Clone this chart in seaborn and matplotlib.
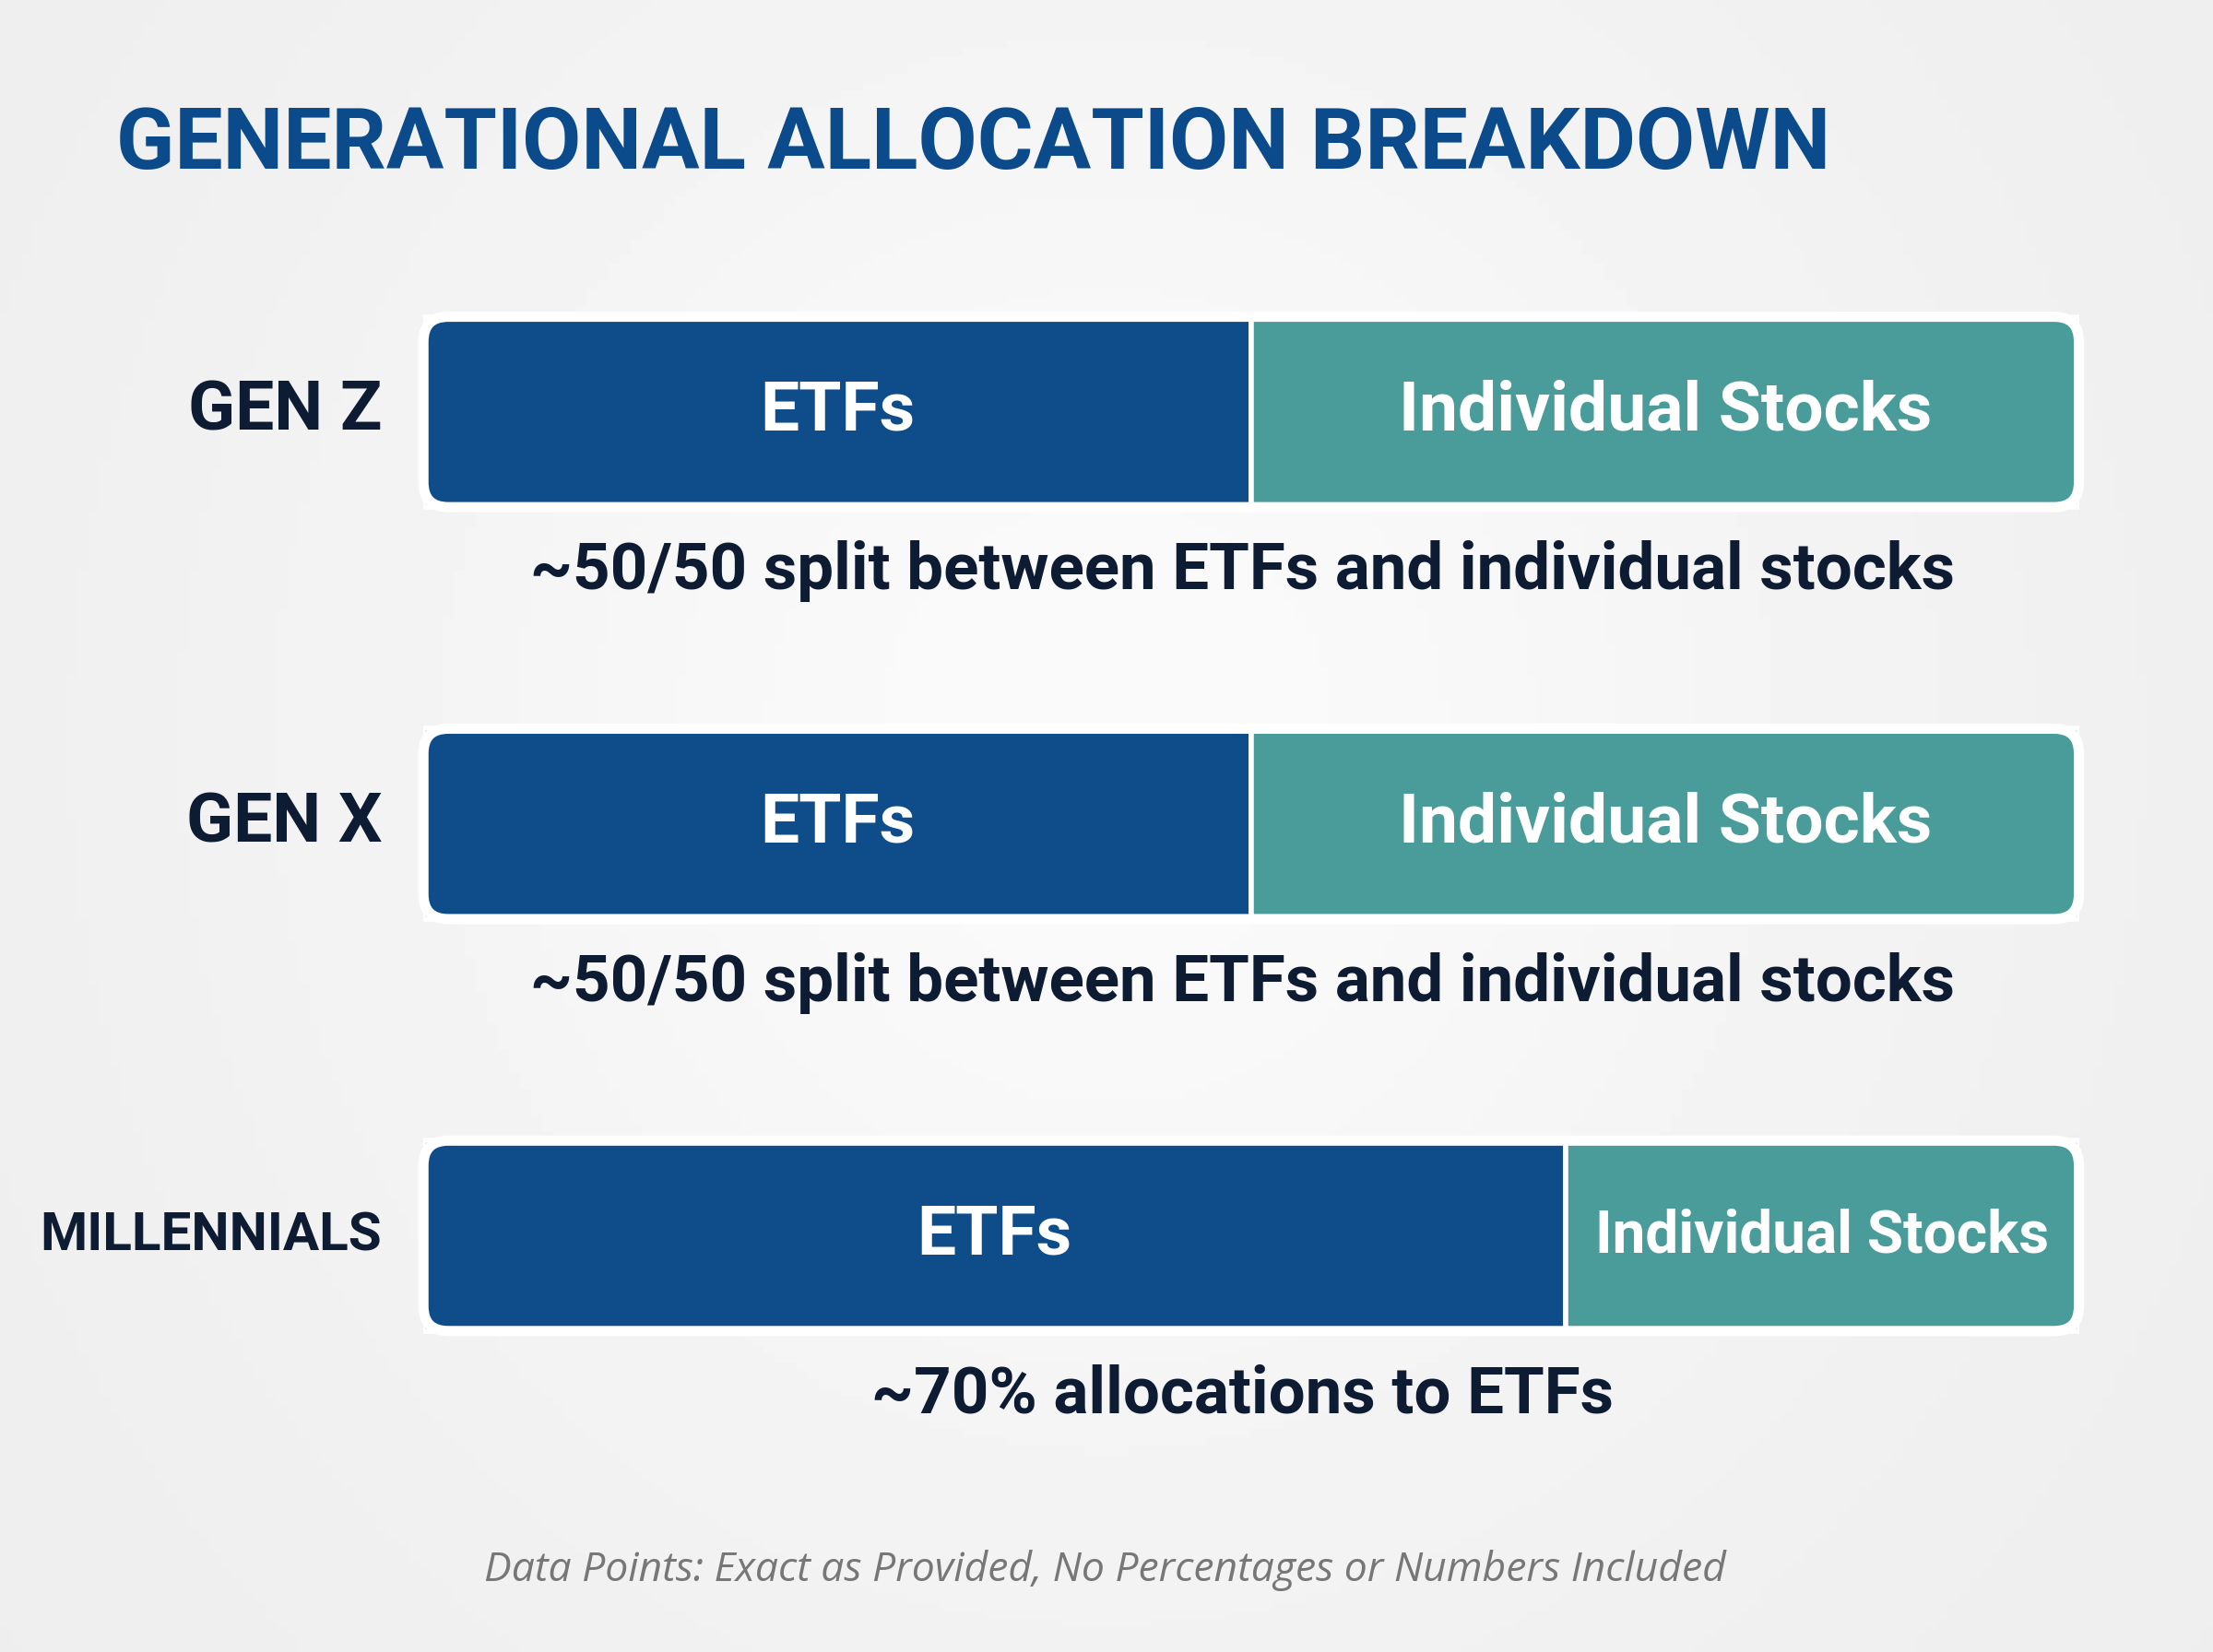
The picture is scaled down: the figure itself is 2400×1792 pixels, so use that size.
import numpy as np
import pandas as pd
import matplotlib.pyplot as plt
import seaborn as sns
from matplotlib.patches import FancyBboxPatch

# chart data
generations = ["GEN Z", "GEN X", "MILLENNIALS"]
etf_share = [50, 50, 69]
stock_share = [50, 50, 31]
notes = ["~50/50 split between ETFs and individual stocks",
         "~50/50 split between ETFs and individual stocks",
         "~70% allocations to ETFs"]

ETF_COL = "#0E4C8A"
STK_COL = "#4A9C9A"
DARK = "#0D1B33"

sns.set_theme(style="white")
plt.rcParams["font.family"] = ["Roboto", "DejaVu Sans"]

fig = plt.figure(figsize=(12, 8.96), dpi=200)

# light brushed-metal background
bg = fig.add_axes([0, 0, 1, 1])
yy, xx = np.mgrid[0:1:200j, 0:1:200j]
grad = 0.93 + 0.05 * np.exp(-((xx - 0.5) ** 2 / 0.15 + (yy - 0.45) ** 2 / 0.3))
bg.imshow(grad, cmap="gray", vmin=0, vmax=1, aspect="auto", extent=[0, 1, 0, 1])
bg.axis("off")

W, H = 1568, 1171
ax = fig.add_axes([300 / W, 0, 1173 / W, 1])
ax.set_facecolor("none")

df = pd.DataFrame({"gen": generations, "etf": etf_share, "stk": stock_share})
bh = 135 / 292
sns.barplot(data=df, x="etf", y="gen", orient="h", color=ETF_COL,
            width=bh, saturation=1, ax=ax, edgecolor="white", linewidth=2)
ax.barh(range(len(df)), df["stk"], left=df["etf"], height=bh,
        color=STK_COL, edgecolor="white", linewidth=2)

ax.set_xlim(0, 100)
ax.set_ylim((H - 292) / 292, -1)
ax.axis("off")

for i, row in df.iterrows():
    # rounded white frame
    ax.add_patch(FancyBboxPatch((0, i - bh / 2), 100, bh,
                                boxstyle="round,pad=0,rounding_size=1.5",
                                fill=False, ec="white", lw=4, clip_on=False,
                                mutation_aspect=1 / 25))
    big = row["stk"] >= 40
    ax.text(row["etf"] / 2, i, "ETFs", color="white", fontsize=27,
            fontweight="bold", ha="center", va="center")
    ax.text(row["etf"] + row["stk"] / 2, i, "Individual Stocks", color="white",
            fontsize=27 if big else 23, fontweight="bold", ha="center", va="center")
    ax.text(-2.5, i, row["gen"], color=DARK, fontsize=27 if big else 21,
            fontweight="bold", ha="right", va="center")
    ax.text(49.5, i + 113 / 292, notes[i], color=DARK, fontsize=25.5,
            fontweight="bold", ha="center", va="center")

fig.text(82 / W, 1 - 103 / H, "GENERATIONAL ALLOCATION BREAKDOWN", color="#0B4A8B",
         fontsize=33.5, fontweight="bold", ha="left", va="center")
fig.text(783 / W, 1 - 1113 / H,
         "Data Points: Exact as Provided, No Percentages or Numbers Included",
         color="#777777", fontsize=16, style="italic", ha="center", va="center",
         family=["Open Sans", "DejaVu Sans"])

fig.savefig("out.png", dpi=200)
